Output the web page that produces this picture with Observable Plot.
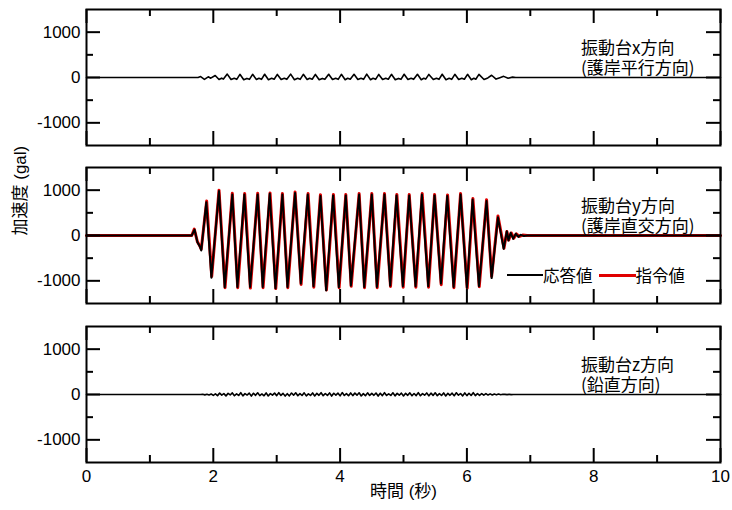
<!DOCTYPE html>
<html>
<head>
<meta charset="utf-8">
<script src="https://cdn.jsdelivr.net/npm/d3@7"></script>
<script src="https://cdn.jsdelivr.net/npm/@observablehq/plot@0.6"></script>
<style>
  html, body { margin: 0; padding: 0; background: #fff; }
  #chart { position: relative; width: 732px; height: 510px; font-family: "Liberation Sans", "Noto Sans CJK JP", sans-serif; }
  #chart svg { display: block; }
  #legend { position: absolute; left: 507px; top: 264px; display: flex; align-items: center; font-family: "Noto Sans CJK JP", sans-serif; font-size: 16.5px; color: #000; line-height: 22px; }
  #legend .sw { display: inline-block; width: 36px; }
</style>
</head>
<body>
<div id="chart"></div>
<script>
// ---- tick values / labels ----
const timeTicksMajor = [0, 2, 4, 6, 8, 10];
const timeTicksMinor = [1, 3, 5, 7, 9];
const accTicksMajor = [-1000, 0, 1000];
const accTicksMinor = [-500, 500];
const panelTitles = ["振動台x方向\n(護岸平行方向)", "振動台y方向\n(護岸直交方向)", "振動台z方向\n(鉛直方向)"];
const seriesNames = ["応答値", "指令値"];
const xAxisLabel = "時間 (秒)";
const yAxisLabel = "加速度 (gal)";
const noteTime = 7.8;

// ---- shaking table x direction (response) ----
const xTimes = [0,1.76,1.80,1.86,1.92,1.96,2.03,2.09,2.13,2.16,2.22,2.28,2.33,2.37,2.42,2.48,2.53,2.57,2.62,2.68,2.72,2.76,2.81,2.87,2.92,2.96,3.01,3.07,3.12,3.16,3.22,3.28,3.33,3.37,3.42,3.48,3.52,3.56,3.61,3.67,3.72,3.76,3.82,3.88,3.93,3.97,4.02,4.08,4.12,4.16,4.22,4.28,4.33,4.37,4.42,4.48,4.52,4.56,4.61,4.67,4.72,4.76,4.81,4.87,4.92,4.96,5.01,5.07,5.12,5.16,5.22,5.28,5.32,5.35,5.40,5.47,5.52,5.56,5.61,5.67,5.72,5.76,5.81,5.87,5.92,5.96,6.01,6.07,6.11,6.14,6.19,6.27,6.33,6.39,6.46,6.52,6.58,6.65,6.72,6.77,10];
const xAcc   = [0,0,20,-40,15,-15,45,-45,-15,-35,75,-45,-15,-40,70,-50,-20,-40,70,-45,-15,-40,72,-48,-18,-38,68,-45,-15,-40,75,-50,-18,-40,70,-45,-15,-38,68,-48,-20,-40,72,-45,-15,-40,70,-50,-18,-38,70,-45,-15,-40,75,-48,-18,-40,68,-45,-15,-38,70,-50,-20,-40,72,-45,-15,-40,70,-48,-18,-35,68,-45,-15,-40,72,-50,-18,-40,70,-45,-15,-38,70,-48,-18,-38,68,-45,-10,50,-35,-5,25,-15,8,0,0];

// ---- shaking table y direction: response (black) ----
const yRespTimes = [0,1.66,1.705,1.75,1.79,1.81,1.89,1.97,2.09,2.18,2.30,2.38,2.49,2.58,2.70,2.78,2.89,2.98,3.09,3.17,3.29,3.38,3.49,3.58,3.69,3.78,3.89,3.98,4.09,4.17,4.30,4.38,4.50,4.58,4.70,4.79,4.89,4.99,5.09,5.19,5.29,5.39,5.49,5.59,5.69,5.79,5.90,6.00,6.09,6.19,6.31,6.39,6.49,6.58,6.63,6.655,6.69,6.73,6.77,6.81,6.85,6.90,6.95,10];
const yRespAcc   = [0,0,130,-150,-250,-330,735,-930,980,-1140,905,-1135,905,-1135,905,-1135,920,-1165,905,-1135,940,-1060,905,-1120,870,-1210,885,-1140,885,-1105,905,-1135,905,-1135,905,-1105,885,-1120,885,-1120,905,-1120,885,-1060,870,-1135,905,-1155,795,-1120,760,-940,400,-295,95,-110,60,-75,40,-30,15,-10,0,0];

// ---- shaking table y direction: command (red) ----
const yCmdTimes = [0,1.66,1.70,1.75,1.79,1.81,1.895,1.975,2.09,2.185,2.30,2.385,2.495,2.585,2.70,2.785,2.895,2.985,3.09,3.175,3.29,3.385,3.495,3.585,3.69,3.785,3.895,3.985,4.09,4.175,4.30,4.385,4.50,4.585,4.70,4.795,4.895,4.995,5.09,5.195,5.295,5.395,5.49,5.595,5.695,5.795,5.90,6.005,6.095,6.195,6.31,6.39,6.49,6.585,6.63,6.66,6.70,6.74,6.78,6.83,6.88,6.95,10];
const yCmdAcc   = [0,0,140,-140,-240,-300,760,-900,1000,-1150,930,-1150,925,-1160,930,-1150,940,-1170,925,-1150,960,-1080,925,-1140,900,-1200,905,-1150,905,-1120,925,-1150,925,-1150,925,-1125,905,-1140,905,-1140,925,-1140,905,-1085,895,-1150,925,-1160,815,-1130,790,-900,430,-280,90,-100,55,-60,35,-20,10,0,0];

// ---- shaking table z direction (response), sampled every zStep s from zStart ----
const zStart = 1.80;
const zStep = 1 / 30;
const zAcc = [
  0, 5, -8, 6, -12, 10,
  -20, 15, -25, 30, -15, 20,
  -30, 25, -10, 35, -28, 15,
  -22, 40, -30, 20, -12, 30,
  -35, 28, -18, 38, -25, 12,
  -28, 35, -32, 22, -15, 30,
  -25, 40, -20, 25, -35, 18,
  -30, 32, -15, 38, -28, 20,
  -22, 36, -30, 15, -20, 34,
  -32, 25, -18, 40, -26, 22,
  -20, 35, -34, 28, -14, 30,
  -30, 42, -22, 18, -28, 35,
  -25, 30, -15, 38, -32, 20,
  -28, 36, -20, 24, -18, 32,
  -34, 28, -25, 40, -22, 15,
  -20, 38, -30, 25, -16, 30,
  -32, 26, -18, 36, -28, 22,
  -24, 40, -28, 20, -15, 34,
  -30, 30, -20, 38, -26, 18,
  -22, 34, -32, 26, -18, 30,
  -28, 38, -16, 22, -30, 35,
  -25, 28, -22, 40, -24, 20,
  -18, 22, -15, 20, -12, 14,
  -10, 12, -8, 9, -5, 4,
  3, -3, 2, -2, 1, 0
];

// ---- build tables ----
const pairs = (ts, vs) => ts.map((t, i) => ({t, v: vs[i]}));
const xData = pairs(xTimes, xAcc);
const yResp = pairs(yRespTimes, yRespAcc);
const yCmd = pairs(yCmdTimes, yCmdAcc);
const zData = [{t: 0, v: 0}, ...zAcc.map((v, i) => ({t: zStart + i * zStep, v})), {t: 10, v: 0}];

const W = 732, ML = 86, MR = 12, PH = 136;
const innerW = W - ML - MR;
const majorLen = 14, minorLen = 7;

function tickMarks() {
  const s = {stroke: "black", strokeWidth: 2};
  return [
    Plot.tickX(timeTicksMajor, {x: d => d, insetTop: PH - majorLen, ...s}),
    Plot.tickX(timeTicksMajor, {x: d => d, insetBottom: PH - majorLen, ...s}),
    Plot.tickX(timeTicksMinor, {x: d => d, insetTop: PH - minorLen, ...s}),
    Plot.tickX(timeTicksMinor, {x: d => d, insetBottom: PH - minorLen, ...s}),
    Plot.tickY(accTicksMajor, {y: d => d, insetRight: innerW - majorLen, ...s}),
    Plot.tickY(accTicksMajor, {y: d => d, insetLeft: innerW - majorLen, ...s}),
    Plot.tickY(accTicksMinor, {y: d => d, insetRight: innerW - minorLen, ...s}),
    Plot.tickY(accTicksMinor, {y: d => d, insetLeft: innerW - minorLen, ...s})
  ];
}

function panel({series, title, marginTop, marginBottom, extra = []}) {
  return Plot.plot({
    width: W,
    height: PH + marginTop + marginBottom,
    marginTop, marginBottom, marginLeft: ML, marginRight: MR,
    x: {domain: [0, 10], axis: null},
    y: {domain: [-1500, 1500], axis: null},
    style: {fontFamily: "'Liberation Sans', 'Noto Sans CJK JP', sans-serif", fontSize: "17px", color: "black", background: "white", overflow: "visible"},
    marks: [
      ...series,
      Plot.frame({stroke: "black", strokeWidth: 2}),
      ...tickMarks(),
      Plot.axisY({ticks: accTicksMajor, tickSize: 0, tickPadding: 6, tickFormat: d => String(d), fontSize: 17, label: null}),
      Plot.text([title], {x: noteTime, y: 0, text: d => d, textAnchor: "start", lineAnchor: "middle", dy: -20, lineHeight: 1.15, fontSize: 17, fontFamily: "'Noto Sans CJK JP', sans-serif"}),
      ...extra
    ]
  });
}

const chart = document.getElementById("chart");

chart.append(panel({
  series: [Plot.line(xData, {x: "t", y: "v", stroke: "black", strokeWidth: 1.6})],
  title: panelTitles[0], marginTop: 9, marginBottom: 13
}));

chart.append(panel({
  series: [
    Plot.line(yCmd, {x: "t", y: "v", stroke: "#e00000", strokeWidth: 3}),
    Plot.line(yResp, {x: "t", y: "v", stroke: "black", strokeWidth: 2})
  ],
  title: panelTitles[1], marginTop: 9, marginBottom: 13,
  extra: [
    Plot.text([yAxisLabel], {frameAnchor: "left", dx: -66, rotate: -90, text: d => d, fontSize: 17})
  ]
}));

chart.append(panel({
  series: [Plot.line(zData, {x: "t", y: "v", stroke: "black", strokeWidth: 1.6})],
  title: panelTitles[2], marginTop: 10, marginBottom: 48,
  extra: [
    Plot.axisX({ticks: timeTicksMajor, tickSize: 0, tickPadding: 7, tickFormat: d => String(d), fontSize: 17, label: null}),
    Plot.text([xAxisLabel], {frameAnchor: "bottom", dy: 34, text: d => d, fontSize: 17})
  ]
}));

// legend inside the middle panel
const legend = document.createElement("div");
legend.id = "legend";
legend.innerHTML =
  `<span class="sw" style="height:1.5px;background:#000"></span><span>${seriesNames[0]}</span>` +
  `<span class="sw" style="width:37px;height:3px;background:#e00000;margin-left:6px"></span><span>${seriesNames[1]}</span>`;
chart.append(legend);
</script>
</body>
</html>
